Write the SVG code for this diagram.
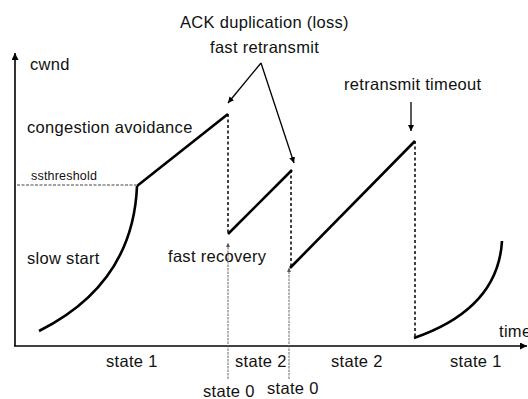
<svg xmlns="http://www.w3.org/2000/svg" width="528" height="399" viewBox="0 0 528 399">
<defs>
<style>
text{font-family:"Liberation Sans",Arial,sans-serif;font-size:16.5px;letter-spacing:0.3px;fill:#111}
.small{font-size:12.5px;letter-spacing:0.2px}
.curve{fill:none;stroke:#000;stroke-width:2.6;stroke-linecap:butt}
.axis{fill:none;stroke:#000;stroke-width:1.6}
.drop{fill:none;stroke:#000;stroke-width:1.5;stroke-dasharray:3,2.5}
.thin{fill:none;stroke:#555;stroke-width:0.9;stroke-dasharray:2.5,1}
.ptr{fill:none;stroke:#000;stroke-width:1.3}
.ss{fill:none;stroke:#444;stroke-width:1;stroke-dasharray:3,1.5}
</style>
<marker id="ah" viewBox="0 0 10 10" refX="10" refY="5" markerWidth="6" markerHeight="7" markerUnits="userSpaceOnUse" orient="auto"><path d="M0,0 L10,5 L0,10 z" fill="#000"/></marker>
<marker id="ahBig" viewBox="0 0 10 10" refX="10" refY="5" markerWidth="10" markerHeight="7" markerUnits="userSpaceOnUse" orient="auto"><path d="M0,0 L10,5 L0,10 z" fill="#000"/></marker>
<marker id="ahThin" viewBox="0 0 10 10" refX="10" refY="5" markerWidth="5" markerHeight="4" markerUnits="userSpaceOnUse" orient="auto"><path d="M0,0 L10,5 L0,10 z" fill="#555"/></marker>
</defs>
<g id="axes">
<line class="axis" x1="15" y1="346" x2="15" y2="53" marker-end="url(#ahBig)"/>
<line class="axis" x1="14" y1="346" x2="527" y2="346" marker-end="url(#ahBig)"/>
<text x="30" y="70">cwnd</text>
<text x="499" y="337">time</text>
</g>
<g id="slow-start">
<path class="curve" d="M39,331 Q133,284 137,186"/>
<text x="27" y="264">slow start</text>
</g>
<g id="ssthreshold">
<line class="ss" x1="17" y1="185" x2="136" y2="185"/>
<text class="small" x="31" y="180">ssthreshold</text>
</g>
<g id="congestion-avoidance">
<path class="curve" d="M137,186 L228,114"/>
<text x="27" y="133">congestion avoidance</text>
</g>
<g id="fast-recovery">
<path class="curve" d="M228,234 L292,170"/>
<text x="168" y="262">fast recovery</text>
</g>
<g id="avoidance-2">
<path class="curve" d="M290,268 L415,141"/>
</g>
<g id="slow-start-2">
<path class="curve" d="M414,338 Q498,309 502,241"/>
</g>
<g id="ack-dup">
<text x="180" y="28">ACK duplication (loss)</text>
<text x="210" y="53">fast retransmit</text>
</g>
<g id="rto">
<text x="344" y="90">retransmit timeout</text>
</g>
<g id="state-labels">
<text x="106" y="367">state 1</text>
<text x="235" y="367">state 2</text>
<text x="331" y="367">state 2</text>
<text x="450" y="367">state 1</text>
<text x="203" y="397">state 0</text>
<text x="267" y="394">state 0</text>
</g>
<g id="connectors">
<line class="drop" x1="228" y1="114" x2="228" y2="234"/>
<line class="drop" x1="291" y1="170" x2="291" y2="268"/>
<line class="drop" x1="415" y1="141" x2="415" y2="338"/>
<line class="ptr" x1="261" y1="63" x2="228" y2="103" marker-end="url(#ah)"/>
<line class="ptr" x1="261" y1="63" x2="294" y2="163" marker-end="url(#ah)"/>
<line class="ptr" x1="411" y1="102" x2="411" y2="131" marker-end="url(#ah)"/>
<line class="thin" x1="228" y1="379" x2="228" y2="243" marker-end="url(#ahThin)"/>
<line class="thin" x1="289" y1="379" x2="289" y2="268" marker-end="url(#ahThin)"/>
</g>
</svg>
